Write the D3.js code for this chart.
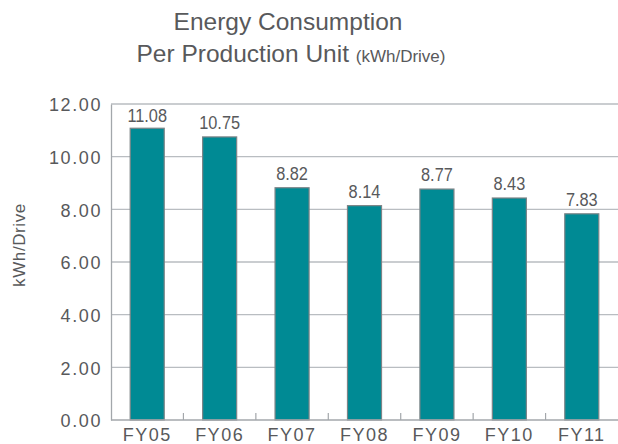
<!DOCTYPE html>
<html><head><meta charset="utf-8">
<script src="https://cdn.jsdelivr.net/npm/d3@7/dist/d3.min.js"></script>
<style>body{margin:0;background:#fff;}svg{display:block;font-family:"Liberation Sans",Arial,sans-serif;}</style>
</head><body>
<svg id="c" width="618" height="444"></svg>
<script>
const categories = ["FY05","FY06","FY07","FY08","FY09","FY10","FY11"];
const values = [11.08,10.75,8.82,8.14,8.77,8.43,7.83];
const yTicks = [0,2,4,6,8,10,12];
const titleLine1 = "Energy Consumption";
const titleLine2 = "Per Production Unit";
const titleUnit = "(kWh/Drive)";
const yTitle = "kWh/Drive";

(function(){
const svg = d3.select("#c");
const mLeft = 111, mRight = 618, mTop = 104, mBottom = 420;
const x = d3.scaleBand().domain(categories).range([mLeft, mRight]).paddingInner(0.53).paddingOuter(0.265);
const y = d3.scaleLinear().domain([0,12]).range([mBottom, mTop]);
const textColor = "#58595b";

// gridlines
svg.append("g").selectAll("line").data(yTicks.filter(d=>d>0)).join("line")
  .attr("x1", mLeft).attr("x2", mRight).attr("y1", d=>y(d)).attr("y2", d=>y(d))
  .attr("stroke", "#b9bdc1").attr("stroke-width", 1.3);

// y axis
const yAxis = d3.axisLeft(y).tickValues(yTicks).tickFormat(d3.format(".2f")).tickSize(0).tickPadding(9);
const gy = svg.append("g").attr("transform", `translate(${mLeft},0)`).call(yAxis);
gy.select(".domain").attr("stroke", "#a3a7ab").attr("stroke-width", 1.3);
gy.selectAll("text").attr("font-size", 18).attr("fill", textColor).attr("letter-spacing", "1.6px")
  .attr("font-family", '"Liberation Sans",Arial,sans-serif').attr("dy", "0.38em");

// x axis ticks at boundaries
const step = x.step();
const bounds = d3.range(1, categories.length).map(i => mLeft + i*step);
svg.append("g").selectAll("line").data(bounds).join("line")
  .attr("x1", d=>d).attr("x2", d=>d).attr("y1", mBottom).attr("y2", mBottom-7)
  .attr("stroke", "#a3a7ab").attr("stroke-width", 1.2);

// bars
svg.append("g").selectAll("rect").data(values).join("rect")
  .attr("x", (d,i)=>x(categories[i])).attr("width", x.bandwidth())
  .attr("y", d=>y(d)).attr("height", d=>mBottom - y(d))
  .attr("fill", "#008a94").attr("stroke", "#7c8487").attr("stroke-width", 1.2);

// x axis line
svg.append("line").attr("x1", mLeft).attr("x2", mRight).attr("y1", mBottom).attr("y2", mBottom)
  .attr("stroke", "#a3a7ab").attr("stroke-width", 1.3);

// x labels
svg.append("g").selectAll("text").data(categories).join("text")
  .attr("x", d=>x(d)+x.bandwidth()/2).attr("y", 441)
  .attr("text-anchor","middle").attr("font-size",18).attr("letter-spacing","1.5px")
  .attr("fill", textColor).text(d=>d);

// value labels (condensed look)
svg.append("g").selectAll("text").data(values).join("text")
  .attr("transform", (d,i)=>`translate(${x(categories[i])+x.bandwidth()/2},${Math.max(y(d)-8, 122)}) scale(0.86,1)`)
  .attr("text-anchor","middle").attr("font-size",19)
  .attr("fill", textColor).text(d=>d.toFixed(2));

// title
svg.append("text").attr("x", 288).attr("y", 30).attr("text-anchor","middle")
  .attr("font-size",24.5).attr("fill",textColor).text(titleLine1);
const t2 = svg.append("text").attr("x", 291).attr("y", 62).attr("text-anchor","middle").attr("fill",textColor);
t2.append("tspan").attr("font-size",24.5).text(titleLine2 + " ");
t2.append("tspan").attr("font-size",17).text(titleUnit);

// y title
svg.append("text").attr("transform", "translate(25,245) rotate(-90)")
  .attr("text-anchor","middle").attr("font-size",17).attr("letter-spacing","0.6px")
  .attr("fill",textColor).text(yTitle);
})();
</script>
</body></html>
